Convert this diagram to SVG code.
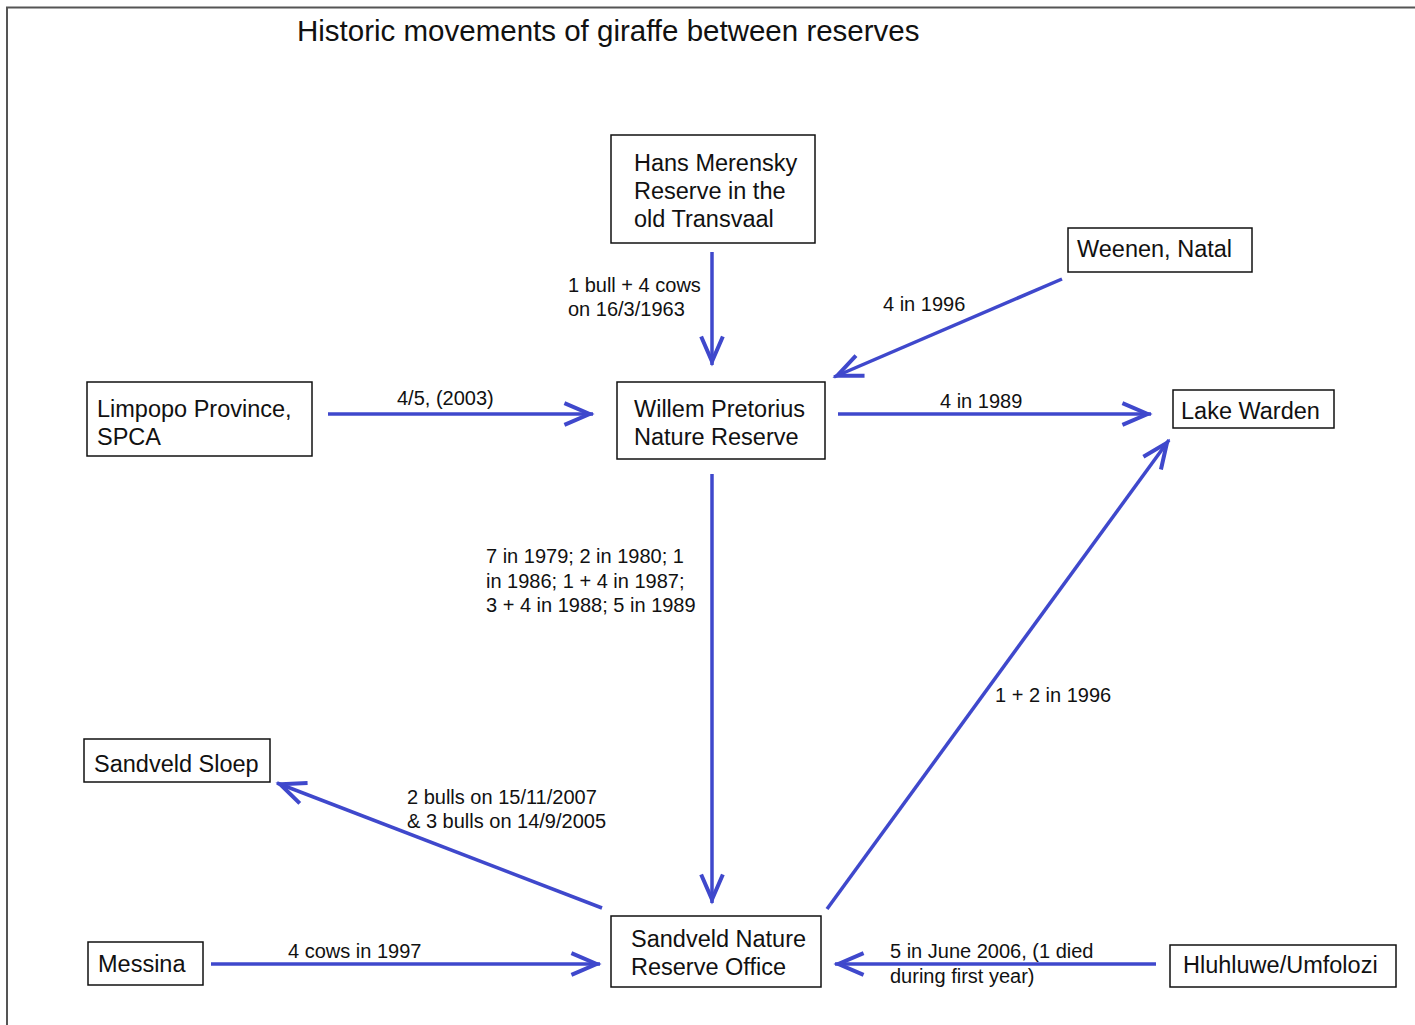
<svg xmlns="http://www.w3.org/2000/svg" width="1415" height="1025" viewBox="0 0 1415 1025">
<defs>
<marker id="ah" markerUnits="userSpaceOnUse" orient="auto" refX="3" refY="0" markerWidth="40" markerHeight="40" viewBox="-30 -15 35 30" overflow="visible">
<path d="M-22,-9.5 L0,0 L-22,9.5" fill="none" stroke="#3f48cc" stroke-width="3.5" stroke-linejoin="miter"/>
</marker>
<style>
.box{fill:#fff;stroke:#111;stroke-width:1.5}
.nt{font-family:"Liberation Sans",Arial,sans-serif;font-size:23.5px;fill:#111}
.lt{font-family:"Liberation Sans",Arial,sans-serif;font-size:20px;fill:#111}
.title{font-family:"Liberation Sans",Arial,sans-serif;font-size:29.5px;fill:#111}
.c{fill:none;stroke:#3f48cc;stroke-width:3.5;marker-end:url(#ah)}
</style>
</defs>
<rect width="1415" height="1025" fill="#fff"/>
<path d="M7,1025 V7.5 H1415" fill="none" stroke="#555" stroke-width="2"/>
<text class="title" x="297" y="41">Historic movements of giraffe between reserves</text>

<g id="connectors">
<line class="c" x1="712" y1="252" x2="712" y2="365"/>
<line class="c" x1="1062" y1="279" x2="834" y2="377"/>
<line class="c" x1="328" y1="414" x2="593" y2="414"/>
<line class="c" x1="838" y1="414" x2="1151" y2="414"/>
<line class="c" x1="712" y1="474" x2="712" y2="903"/>
<line class="c" x1="827" y1="909" x2="1169" y2="440"/>
<line class="c" x1="602" y1="908" x2="277" y2="783"/>
<line class="c" x1="211" y1="964" x2="600" y2="964"/>
<line class="c" x1="1156" y1="964" x2="835" y2="964"/>
<text class="lt" x="568" y="292">1 bull + 4 cows</text>
<text class="lt" x="568" y="316">on 16/3/1963</text>
<text class="lt" x="883" y="311">4 in 1996</text>
<text class="lt" x="397" y="405">4/5, (2003)</text>
<text class="lt" x="940" y="408">4 in 1989</text>
<text class="lt" x="486" y="563">7 in 1979; 2 in 1980; 1</text>
<text class="lt" x="486" y="588">in 1986; 1 + 4 in 1987;</text>
<text class="lt" x="486" y="612">3 + 4 in 1988; 5 in 1989</text>
<text class="lt" x="995" y="702">1 + 2 in 1996</text>
<text class="lt" x="407" y="804">2 bulls on 15/11/2007</text>
<text class="lt" x="407" y="828">&amp; 3 bulls on 14/9/2005</text>
<text class="lt" x="288" y="958">4 cows in 1997</text>
<text class="lt" x="890" y="958">5 in June 2006, (1 died</text>
<text class="lt" x="890" y="983">during first year)</text>
</g>

<g id="hans">
<rect class="box" x="611" y="135" width="204" height="108"/>
<text class="nt" x="634" y="171">Hans Merensky</text>
<text class="nt" x="634" y="199">Reserve in the</text>
<text class="nt" x="634" y="227">old Transvaal</text>
</g>
<g id="weenen">
<rect class="box" x="1068" y="228" width="184" height="44"/>
<text class="nt" x="1077" y="257">Weenen, Natal</text>
</g>
<g id="limpopo">
<rect class="box" x="87" y="382" width="225" height="74"/>
<text class="nt" x="97" y="417">Limpopo Province,</text>
<text class="nt" x="97" y="445">SPCA</text>
</g>
<g id="willem">
<rect class="box" x="617" y="382" width="208" height="77"/>
<text class="nt" x="634" y="417">Willem Pretorius</text>
<text class="nt" x="634" y="445">Nature Reserve</text>
</g>
<g id="lakewarden">
<rect class="box" x="1173" y="390" width="161" height="38"/>
<text class="nt" x="1181" y="419">Lake Warden</text>
</g>
<g id="sloep">
<rect class="box" x="84" y="739" width="186" height="43"/>
<text class="nt" x="94" y="772">Sandveld Sloep</text>
</g>
<g id="messina">
<rect class="box" x="88" y="942" width="115" height="43"/>
<text class="nt" x="98" y="972">Messina</text>
</g>
<g id="sandveld">
<rect class="box" x="611" y="916" width="210" height="71"/>
<text class="nt" x="631" y="947">Sandveld Nature</text>
<text class="nt" x="631" y="975">Reserve Office</text>
</g>
<g id="hluhluwe">
<rect class="box" x="1170" y="945" width="226" height="42"/>
<text class="nt" x="1183" y="973">Hluhluwe/Umfolozi</text>
</g>
</svg>
